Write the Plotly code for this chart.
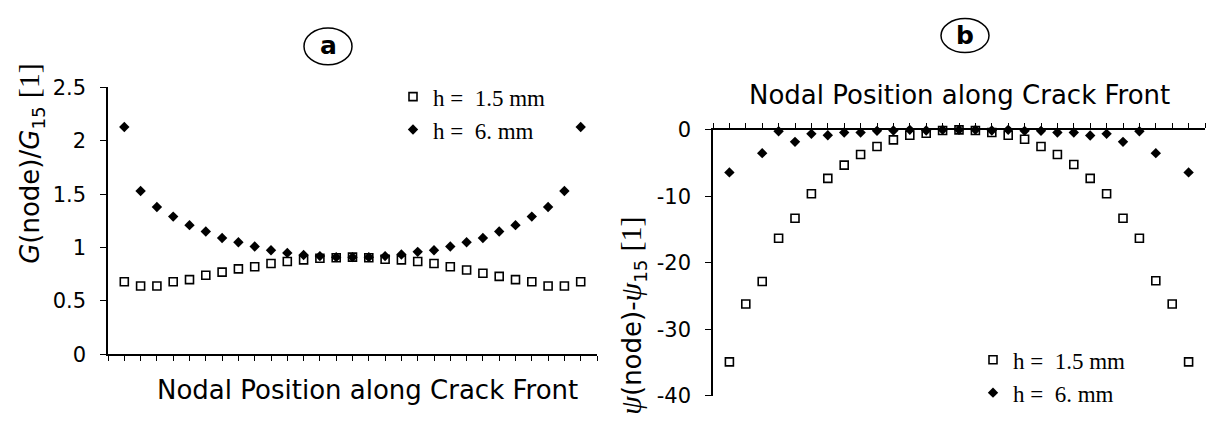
import plotly.graph_objects as go

# node index along the crack front (29 nodes, node 15 in the middle)
nodes = list(range(1, 30))

# (a) normalised energy release rate G(node)/G15
g_ratio_h15 = [0.68, 0.64, 0.64, 0.68, 0.70, 0.74, 0.77, 0.80, 0.82, 0.85,
               0.87, 0.885, 0.90, 0.905, 0.91, 0.905, 0.89, 0.885, 0.87, 0.85,
               0.82, 0.79, 0.76, 0.73, 0.70, 0.68, 0.64, 0.64, 0.68]
g_ratio_h6 = [2.13, 1.53, 1.38, 1.29, 1.21, 1.15, 1.09, 1.05, 1.01, 0.975,
              0.95, 0.93, 0.92, 0.91, 0.91, 0.91, 0.92, 0.935, 0.96, 0.975,
              1.01, 1.05, 1.09, 1.15, 1.21, 1.29, 1.38, 1.53, 2.13]

# (b) mode-mixity difference psi(node) - psi15
psi_h15 = [-34.9, -26.2, -22.8, -16.3, -13.3, -9.6, -7.3, -5.3, -3.7, -2.5,
           -1.5, -0.8, -0.5, -0.1, 0.0, -0.1, -0.4, -0.8, -1.4, -2.5,
           -3.7, -5.2, -7.3, -9.6, -13.3, -16.3, -22.7, -26.2, -34.9]
psi_h6 = [-6.4, None, -3.5, -0.2, -1.8, -0.6, -0.8, -0.4, -0.4, -0.15,
          -0.1, 0.0, -0.1, 0.0, 0.0, 0.0, -0.1, 0.0, -0.15, -0.15,
          -0.4, -0.4, -0.85, -0.6, -1.8, -0.2, -3.5, None, -6.4]

series_labels = ["h =\u00a0 1.5 mm", "h =\u00a0 6. mm"]
g_ticks = [0, 0.5, 1, 1.5, 2, 2.5]
psi_ticks = [0, -10, -20, -30, -40]

W, H = 1206, 421
SANS = "DejaVu Sans"
SERIF = "Liberation Serif"

sq = dict(symbol="square-open", size=8, color="black", line=dict(width=1.6, color="black"))
dm = dict(symbol="diamond", size=8, color="black", line=dict(width=0))

fig = go.Figure()
fig.add_trace(go.Scatter(x=nodes, y=g_ratio_h15, mode="markers", marker=sq,
                         name=series_labels[0], xaxis="x", yaxis="y",
                         legend="legend", cliponaxis=False))
fig.add_trace(go.Scatter(x=nodes, y=g_ratio_h6, mode="markers", marker=dm,
                         name=series_labels[1], xaxis="x", yaxis="y",
                         legend="legend", cliponaxis=False))
fig.add_trace(go.Scatter(x=nodes, y=psi_h15, mode="markers", marker=sq,
                         name=series_labels[0], xaxis="x2", yaxis="y2",
                         legend="legend2", cliponaxis=False))
fig.add_trace(go.Scatter(x=nodes, y=psi_h6, mode="markers", marker=dm,
                         name=series_labels[1], xaxis="x2", yaxis="y2",
                         legend="legend2", cliponaxis=False))


def px(v):
    return v / W


def py(v):
    return 1 - v / H


axis_common = dict(showline=True, linecolor="black", linewidth=1.5,
                   ticks="outside", tickcolor="black", tickwidth=1.2,
                   showgrid=False, zeroline=False, fixedrange=True,
                   tickfont=dict(family=SANS, size=21, color="black"))

legend_font = dict(family=SERIF, size=23, color="black")

fig.update_layout(
    width=W, height=H, autosize=False,
    margin=dict(l=0, r=0, t=0, b=0),
    paper_bgcolor="white", plot_bgcolor="white",
    xaxis=dict(domain=[px(108), px(597)], range=[0, 30], anchor="y",
               tickmode="linear", tick0=0, dtick=1, ticklen=5,
               showticklabels=False, **axis_common),
    yaxis=dict(domain=[py(363), py(80)], range=[0, 2.5], anchor="x",
               tickvals=g_ticks, ticktext=[f"{t:g}" for t in g_ticks],
               ticklen=6, ticklabelstandoff=10, **axis_common),
    xaxis2=dict(domain=[px(713), px(1205)], range=[0, 30], anchor="y2",
                side="top", tickmode="linear", tick0=0, dtick=1, ticklen=5,
                showticklabels=False, **axis_common),
    yaxis2=dict(domain=[py(407), py(125)], range=[-40, 0], anchor="x2",
                tickvals=psi_ticks, ticktext=[f"{t:g}" for t in psi_ticks],
                ticklen=6, ticklabelstandoff=10, **axis_common),
    legend=dict(x=px(393), y=py(67), xanchor="left", yanchor="top",
                bgcolor="rgba(0,0,0,0)", borderwidth=0, tracegroupgap=0,
                itemwidth=30, font=legend_font),
    legend2=dict(x=px(973), y=py(346), xanchor="left", yanchor="top",
                 bgcolor="rgba(0,0,0,0)", borderwidth=0, tracegroupgap=0,
                 itemwidth=30, font=legend_font),
    showlegend=True,
)

title_font = dict(family=SANS, size=26, color="black")
ann = [
    dict(text="Nodal Position along Crack Front", x=px(367), y=py(401),
         xanchor="center", yanchor="middle", font=title_font),
    dict(text="Nodal Position along Crack Front", x=px(959), y=py(88),
         xanchor="center", yanchor="middle", font=title_font),
    dict(text=("<i>G</i>(node)/<i>G</i><sub>15</sub> "
               f"<span style='font-family:{SERIF};font-size:30px'>[1]</span>"),
         x=px(30), y=py(161), textangle=-90,
         xanchor="center", yanchor="middle", font=title_font),
    dict(text=(f"<span style='font-family:{SERIF};font-size:30px'><i>ψ</i></span>(node)-"
               f"<span style='font-family:{SERIF};font-size:30px'><i>ψ</i></span><sub>15</sub> "
               f"<span style='font-family:{SERIF};font-size:30px'>[1]</span>"),
         x=px(632), y=py(322), textangle=-90,
         xanchor="center", yanchor="middle", font=title_font),
    dict(text="<b>a</b>", x=px(328), y=py(36), xanchor="center", yanchor="middle",
         font=dict(family=SANS, size=25, color="black")),
    dict(text="<b>b</b>", x=px(965), y=py(25), xanchor="center", yanchor="middle",
         font=dict(family=SANS, size=25, color="black")),
]
for a in ann:
    a.update(xref="paper", yref="paper", showarrow=False)
fig.update_layout(annotations=ann)

fig.update_layout(shapes=[
    dict(type="circle", xref="paper", yref="paper",
         x0=px(304), x1=px(352), y0=py(56), y1=py(17),
         line=dict(color="black", width=1.5)),
    dict(type="circle", xref="paper", yref="paper",
         x0=px(941), x1=px(989), y0=py(43), y1=py(7),
         line=dict(color="black", width=1.5)),
])

fig.write_html("out.html")
